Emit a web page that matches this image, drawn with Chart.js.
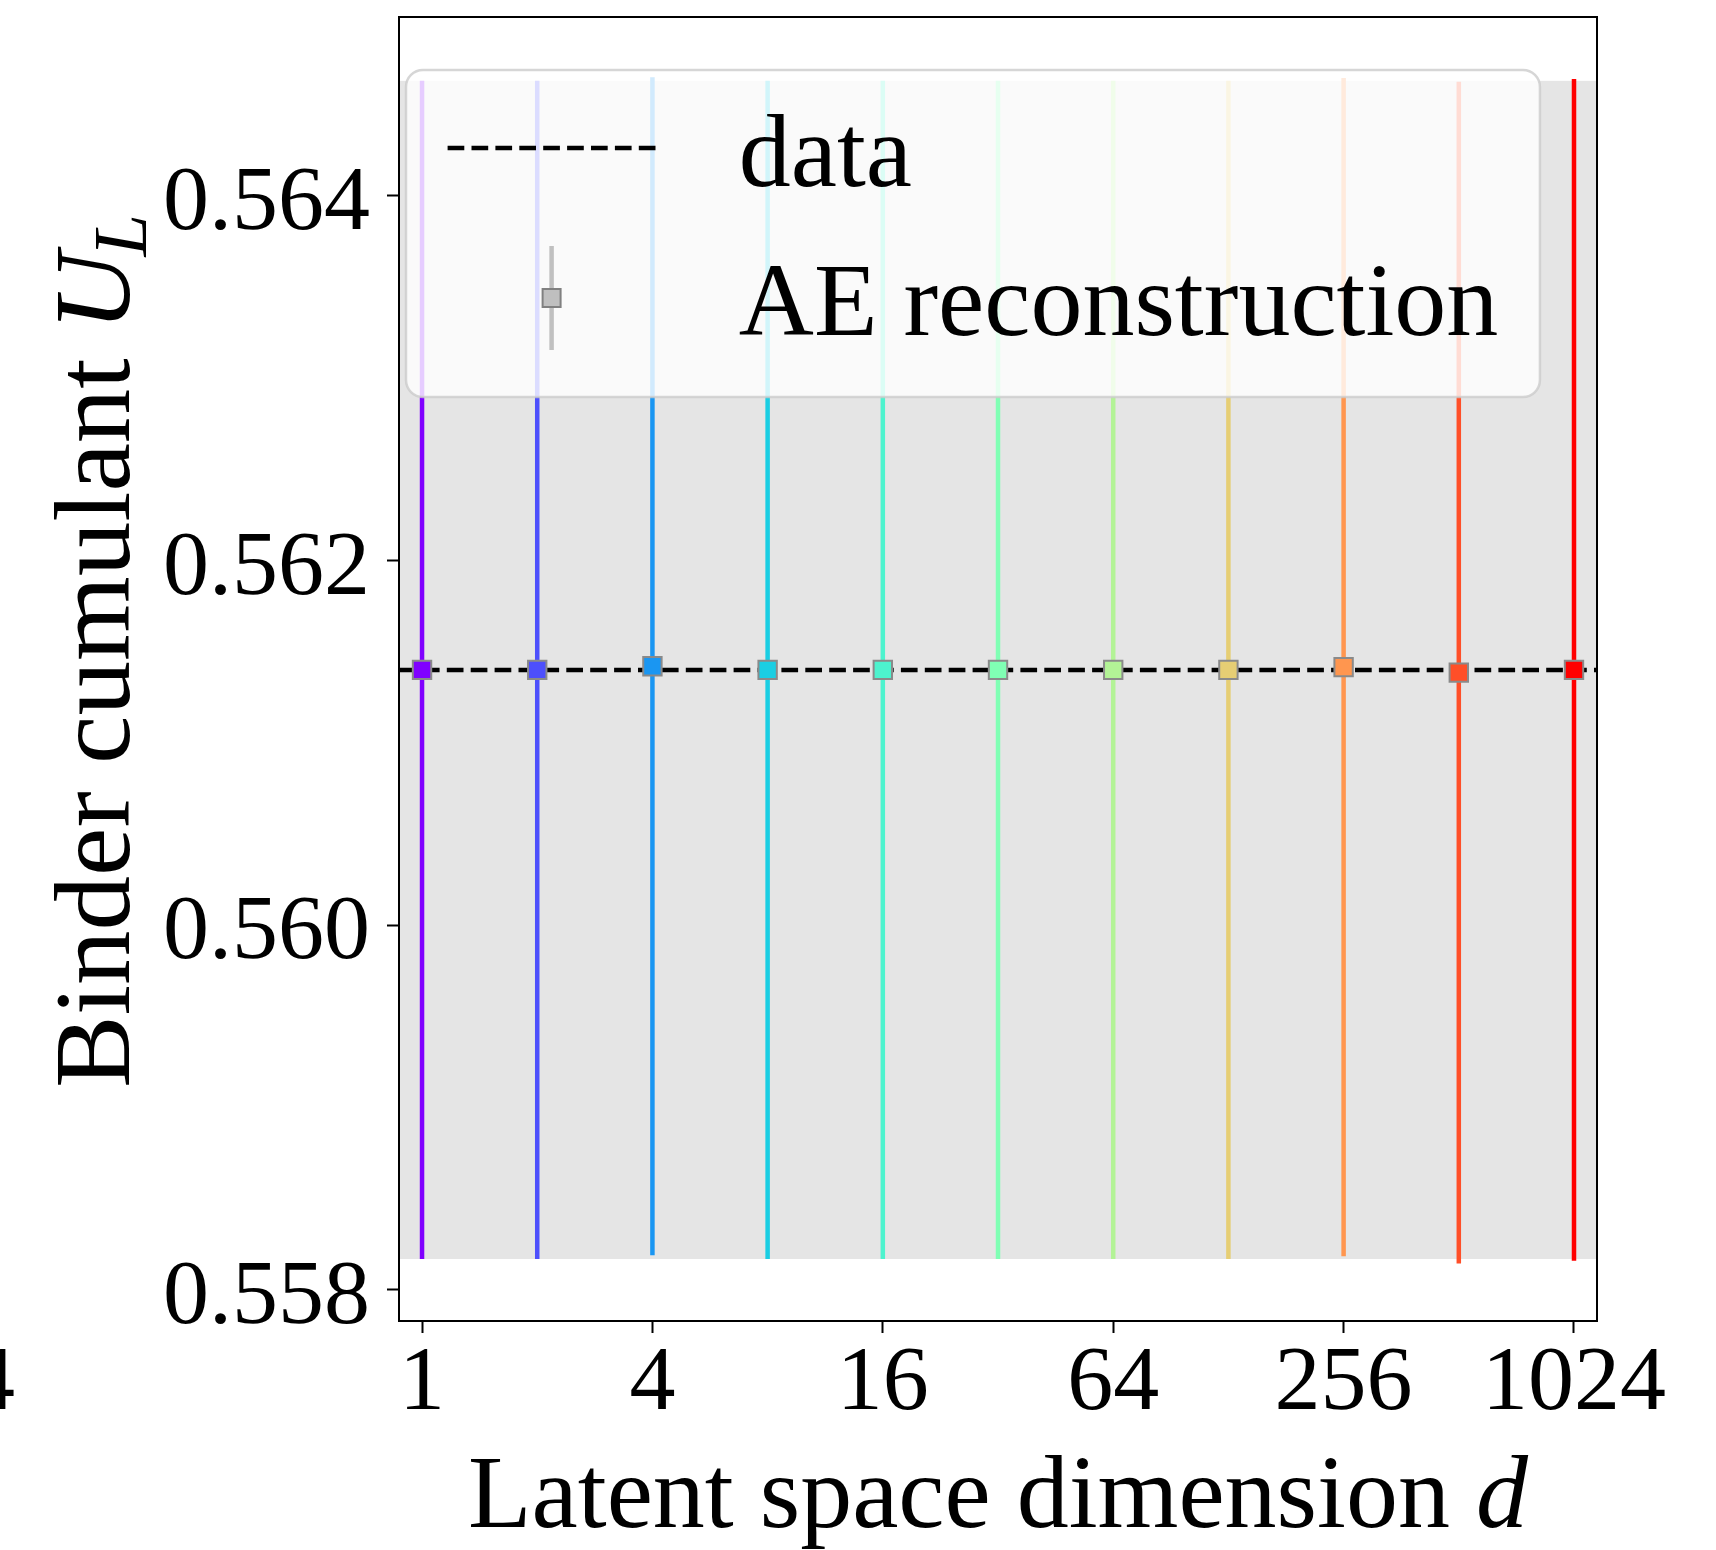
<!DOCTYPE html>
<html>
<head>
<meta charset="utf-8">
<script src="https://cdn.jsdelivr.net/npm/chart.js@4.4.0/dist/chart.umd.min.js"></script>
<style>
  html, body { margin: 0; padding: 0; background: #fff; }
  #wrap { width: 1716px; height: 1550px; }
</style>
</head>
<body>
<div id="wrap"><canvas id="chart" width="1716" height="1550"></canvas></div>
<script>
/*
* Data
*/

// latent space dimension d
var dims = [1, 2, 4, 8, 16, 32, 64, 128, 256, 512, 1024];

// Binder cumulant of the AE reconstruction, with errors
var binderAE = [0.56140, 0.56140, 0.56142, 0.56140, 0.56140, 0.56140, 0.56140, 0.56140, 0.561415, 0.561385, 0.56140];
var binderAEErr = [0.00323, 0.00323, 0.00323, 0.00323, 0.00323, 0.00323, 0.00323, 0.00323, 0.00323, 0.00324, 0.00324];

// Binder cumulant of the data (line + band)
var binderData = [0.56140];
var binderDataErr = [0.00323];

// axes
var xTicks = [1, 4, 16, 64, 256, 1024];
var yTicks = [0.558, 0.560, 0.562, 0.564];
var xLimits = [0.8706, 1176];
var yLimits = [0.55783, 0.56498];

// rainbow colormap, one colour per d
var colors = ['#8000ff', '#4d4ffc', '#1a96f2', '#1acee3', '#4df3ce', '#80ffb4',
              '#b3f396', '#e6ce74', '#ff964f', '#ff4f28', '#ff0000'];

var FONT = "'Liberation Serif', 'Times New Roman', serif";
var LABEL_SIZE = 104;
var YLABEL_SIZE = 109;
var TICK_SIZE = 92;
var BAR_WIDTH = 4.5;
var DASH = [16.7, 7.2];

// band for the data and the error bars of the AE points
var bandAndBars = {
	id: 'bandAndBars',
	beforeDatasetsDraw: function (chart) {
		var c = chart.ctx, ca = chart.chartArea
		var xs = chart.scales.x, ys = chart.scales.y
		c.save()
		c.beginPath()
		c.rect(ca.left, ca.top, ca.right - ca.left, ca.bottom - ca.top)
		c.clip()
		var yHi = ys.getPixelForValue(binderData[0] + binderDataErr[0])
		var yLo = ys.getPixelForValue(binderData[0] - binderDataErr[0])
		c.fillStyle = '#e5e5e5'
		c.fillRect(ca.left, yHi, ca.right - ca.left, yLo - yHi)
		c.restore()

		c.save()
		c.lineWidth = BAR_WIDTH
		dims.forEach(function (d, i) {
			var x = xs.getPixelForValue(d)
			c.strokeStyle = colors[i]
			c.beginPath()
			c.moveTo(x, ys.getPixelForValue(binderAE[i] + binderAEErr[i]))
			c.lineTo(x, ys.getPixelForValue(binderAE[i] - binderAEErr[i]))
			c.stroke()
		})
		c.restore()
	}
}

function drawRich(c, parts, x, y) {
	parts.forEach(function (p) {
		c.font = p.font
		c.fillText(p.t, x, y + (p.dy || 0))
		x += c.measureText(p.t).width + (p.gap || 0)
	})
}
function richWidth(c, parts) {
	var w = 0
	parts.forEach(function (p) { c.font = p.font; w += c.measureText(p.t).width + (p.gap || 0) })
	return w
}

// frame, axis titles, legend
var decorations = {
	id: 'decorations',
	afterDraw: function (chart) {
		var c = chart.ctx, ca = chart.chartArea
		var xs = chart.scales.x
		c.save()
		c.strokeStyle = '#000'
		c.lineWidth = 2
		c.strokeRect(ca.left, ca.top, ca.right - ca.left, ca.bottom - ca.top)

		c.fillStyle = '#000'
		c.textBaseline = 'alphabetic'
		c.textAlign = 'left'

		// x title
		var xParts = [
			{t: 'Latent space dimension ', font: LABEL_SIZE + 'px ' + FONT},
			{t: 'd', font: 'italic ' + LABEL_SIZE + 'px ' + FONT}
		]
		var wx = richWidth(c, xParts)
		drawRich(c, xParts, (ca.left + ca.right) / 2 - wx / 2, 1527)

		// y title
		var yParts = [
			{t: 'Binder cumulant ', font: YLABEL_SIZE + 'px ' + FONT},
			{t: 'U', font: 'italic ' + YLABEL_SIZE + 'px ' + FONT, gap: -4},
			{t: 'L', font: 'italic ' + Math.round(YLABEL_SIZE * 0.7) + 'px ' + FONT, dy: 17}
		]
		var wy = richWidth(c, yParts)
		c.save()
		c.translate(129, (ca.top + ca.bottom) / 2 - 18)
		c.rotate(-Math.PI / 2)
		drawRich(c, yParts, -wy / 2, 0)
		c.restore()

		// stray tick label cut at the left edge
		c.font = TICK_SIZE + 'px ' + FONT
		c.textAlign = 'right'
		c.textBaseline = 'middle'
		c.fillText('4', 15, xs.top + 12 + 6 + TICK_SIZE / 2)

		// legend
		var F = 104
		var lx = ca.left + 7, ly = ca.top + 53
		var row1 = ly + 78, row2 = row1 + 150
		c.font = LABEL_SIZE + 'px ' + FONT
		var textX = lx + 0.4 * F + 2 * F + 0.8 * F
		var tw = Math.max(c.measureText('data').width, c.measureText('AE reconstruction').width)
		var lw = textX + tw + 0.4 * F - lx
		var lh = row2 + 99 - ly
		c.beginPath()
		c.roundRect(lx, ly, lw, lh, 17)
		c.fillStyle = 'rgba(255,255,255,0.8)'
		c.fill()
		c.lineWidth = 2.5
		c.strokeStyle = 'rgba(204,204,204,0.8)'
		c.stroke()

		// handle: dashed line
		var hx0 = lx + 0.4 * F, hx1 = hx0 + 2 * F
		c.strokeStyle = '#000'
		c.lineWidth = BAR_WIDTH
		c.setLineDash(DASH)
		c.beginPath()
		c.moveTo(hx0, row1)
		c.lineTo(hx1, row1)
		c.stroke()
		c.setLineDash([])

		// handle: errorbar
		var hx = (hx0 + hx1) / 2
		c.strokeStyle = '#c0c0c0'
		c.beginPath()
		c.moveTo(hx, row2 - 52)
		c.lineTo(hx, row2 + 52)
		c.stroke()
		c.fillStyle = '#bfbfbf'
		c.fillRect(hx - 9, row2 - 9, 18, 18)
		c.strokeStyle = '#808080'
		c.lineWidth = 2
		c.strokeRect(hx - 9, row2 - 9, 18, 18)

		c.fillStyle = '#000'
		c.textAlign = 'left'
		c.textBaseline = 'alphabetic'
		c.font = LABEL_SIZE + 'px ' + FONT
		c.fillText('data', textX, row1 + 38)
		c.fillText('AE reconstruction', textX, row2 + 37)
		c.restore()
	}
}

/*
* Chart definition
*/
var chart = new Chart(document.getElementById('chart'), {
	type: 'scatter',
	data: {
		datasets: [
			{
				label: 'AE reconstruction',
				data: dims.map(function (d, i) { return {x: d, y: binderAE[i]} }),
				pointStyle: 'rect',
				pointRadius: 13,
				pointHoverRadius: 13,
				pointBackgroundColor: colors,
				pointBorderColor: '#8a8a8a',
				pointBorderWidth: 2,
				showLine: false
			},
			{
				label: 'data',
				data: [{x: xLimits[0], y: binderData[0]}, {x: xLimits[1], y: binderData[0]}],
				showLine: true,
				borderColor: '#000',
				borderWidth: BAR_WIDTH,
				borderDash: DASH,
				pointRadius: 0
			}
		]
	},
	options: {
		responsive: false,
		animation: false,
		devicePixelRatio: 1,
		layout: {padding: {top: 17, right: 119, left: 0, bottom: 0}},
		plugins: {legend: {display: false}, tooltip: {enabled: false}},
		scales: {
			x: {
				type: 'logarithmic',
				min: xLimits[0], max: xLimits[1],
				afterBuildTicks: function (s) { s.ticks = xTicks.map(function (v) { return {value: v} }) },
				afterFit: function (s) { s.height = 229; s.paddingLeft = 0; s.paddingRight = 0 },
				ticks: {
					autoSkip: false, maxRotation: 0, minRotation: 0, padding: 6,
					color: '#000',
					font: {family: FONT, size: TICK_SIZE, lineHeight: 1},
					callback: function (v) { return String(v) }
				},
				grid: {drawOnChartArea: false, drawTicks: true, tickLength: 12, tickWidth: 2, tickColor: '#000'},
				border: {display: false}
			},
			y: {
				type: 'linear',
				min: yLimits[0], max: yLimits[1],
				afterBuildTicks: function (s) { s.ticks = yTicks.map(function (v) { return {value: v} }) },
				afterFit: function (s) { s.width = 399; s.paddingTop = 0; s.paddingBottom = 0 },
				ticks: {
					padding: 17, labelOffset: 9,
					color: '#000',
					font: {family: FONT, size: TICK_SIZE, lineHeight: 1},
					callback: function (v) { return v.toFixed(3) }
				},
				grid: {drawOnChartArea: false, drawTicks: true, tickLength: 12, tickWidth: 2, tickColor: '#000'},
				border: {display: false}
			}
		}
	},
	plugins: [bandAndBars, decorations]
})
</script>
</body>
</html>
